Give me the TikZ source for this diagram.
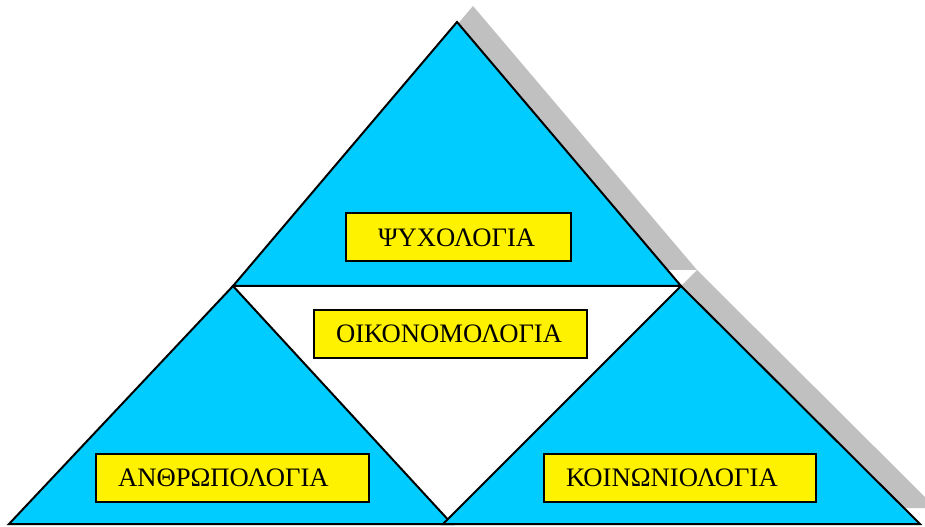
\documentclass[tikz,border=0pt]{standalone}
\usepackage{fontspec}
\setmainfont{Liberation Serif}
\definecolor{skyfill}{RGB}{0,204,255}
\definecolor{shadowgray}{RGB}{192,192,192}

\begin{document}
\begin{tikzpicture}[x=0.75pt,y=-0.75pt,
  tri/.style={line width=1.5pt, line join=miter, fill=skyfill},
  shade/.style={fill=shadowgray},
  labelbox/.style={draw, line width=1.5pt, fill=yellow, align=left, inner xsep=16.5pt, inner ysep=0pt, minimum height=36pt, font=\fontsize{20}{22}\selectfont, anchor=west}]

\useasboundingbox (0,0) rectangle (925,527);

\path (457,22) coordinate(T);
\path (233,286) coordinate(L);
\path (681,286) coordinate(R);
\path (9,524) coordinate(BL);
\path (452,524) coordinate(BM);
\path (443,524) coordinate(BN);
\path (920,524) coordinate(BR);

% shadows
\fill [shade] ([shift={(16,-16)}]T) -- ([shift={(16,-16)}]L) -- ([shift={(16,-16)}]R) -- cycle;
\fill [shade] ([shift={(16,-16)}]R) -- ([shift={(16,-16)}]BN) -- ([shift={(16,-16)}]BR) -- cycle;

% triangles
\draw [tri] (T)--(L)--(R)--cycle;
\draw [tri] (L)--(BL)--(BM)--cycle;
\draw [tri] (R)--(BN)--(BR)--cycle;

% labels
\node [labelbox, inner xsep=24pt, text width=120.75pt] (psy) at (345,237.5) {ΨΥΧΟΛΟΓΙΑ};
\node [labelbox, text width=171.75pt] (eco) at (313,334) {ΟΙΚΟΝΟΜΟΛΟΓΙΑ};
\node [labelbox, text width=171.75pt] (anth) at (95,477.5) {ΑΝΘΡΩΠΟΛΟΓΙΑ};
\node [labelbox, text width=171pt] (soc) at (543,477.5) {ΚΟΙΝΩΝΙΟΛΟΓΙΑ};

\end{tikzpicture}
\end{document}
